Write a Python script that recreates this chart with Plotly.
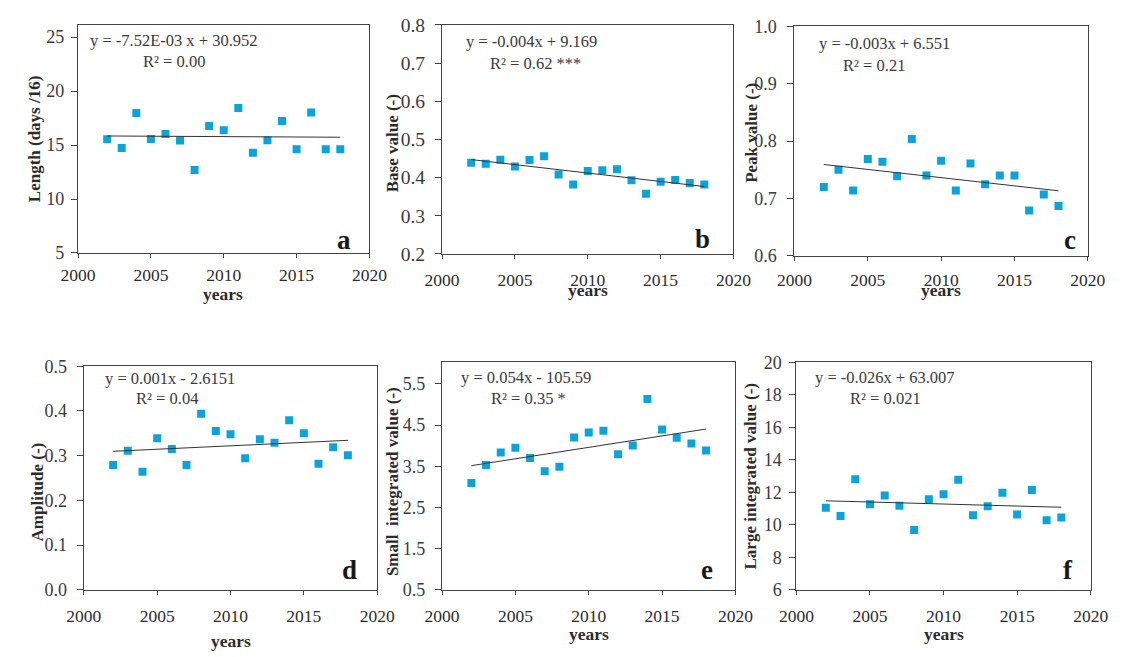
import numpy as np
import plotly.graph_objects as go

# ---- data -------------------------------------------------------------
years = [2002, 2003, 2004, 2005, 2006, 2007, 2008, 2009, 2010,
         2011, 2012, 2013, 2014, 2015, 2016, 2017, 2018]

length_days = [15.54, 14.73, 17.96, 15.57, 16.02, 15.42, 12.69, 16.77, 16.38,
               18.44, 14.28, 15.45, 17.22, 14.61, 18.02, 14.61, 14.61]
base_value = [0.439, 0.436, 0.447, 0.429, 0.446, 0.456, 0.408, 0.382, 0.417,
              0.419, 0.422, 0.393, 0.358, 0.389, 0.394, 0.386, 0.382]
peak_value = [0.720, 0.750, 0.714, 0.769, 0.764, 0.739, 0.804, 0.740, 0.766,
              0.714, 0.761, 0.725, 0.740, 0.740, 0.679, 0.707, 0.687]
amplitude = [0.279, 0.311, 0.264, 0.339, 0.315, 0.279, 0.394, 0.355, 0.348,
             0.294, 0.337, 0.329, 0.379, 0.350, 0.282, 0.319, 0.301]
small_integrated = [3.09, 3.53, 3.83, 3.95, 3.70, 3.38, 3.49, 4.20, 4.32,
                    4.36, 3.79, 4.00, 5.13, 4.39, 4.19, 4.05, 3.88]
large_integrated = [11.05, 10.55, 12.81, 11.27, 11.80, 11.17, 9.68, 11.58, 11.88,
                    12.77, 10.59, 11.15, 11.98, 10.63, 12.14, 10.28, 10.46]

y_titles = ["Length (days /16)", "Base value (-)", "Peak value (-)",
            "Amplitude (-)", "Small\u00a0 integrated value (-)", "Large integrated value (-)"]
equations = ["y = -7.52E-03 x + 30.952", "y = -0.004x + 9.169", "y = -0.003x + 6.551",
             "y = 0.001x - 2.6151", "y = 0.054x - 105.59", "y = -0.026x + 63.007"]
r2_labels = ["R² = 0.00", "R² = 0.62 ***", "R² = 0.21",
             "R² = 0.04", "R² = 0.35 *", "R² = 0.021"]
panel_letters = ["a", "b", "c", "d", "e", "f"]
y_ticks = [[5, 10, 15, 20, 25],
           [0.2, 0.3, 0.4, 0.5, 0.6, 0.7, 0.8],
           [0.6, 0.7, 0.8, 0.9, 1.0],
           [0.0, 0.1, 0.2, 0.3, 0.4, 0.5],
           [0.5, 1.5, 2.5, 3.5, 4.5, 5.5],
           [6, 8, 10, 12, 14, 16, 18, 20]]
x_ticks = [2000, 2005, 2010, 2015, 2020]
x_title = "years"

series = [length_days, base_value, peak_value, amplitude, small_integrated, large_integrated]

# ---- layout (pixels in a 1131 x 657 page) --------------------------------
W, H = 1131, 657
# left, right, top, bottom of each plot frame, y-range, tick format,
# y tick font size, x / y tick label standoff
frames = [
    (62, 363, 15, 251, [5, 26.17], "d", 18, 2, 3),
    (438, 739, 15, 252, [0.2, 0.801], ".1f", 19.5, 6, 6),
    (802, 1105, 17, 254, [0.6, 1.0], ".1f", 18, 4, 7),
    (68, 371, 368, 599, [0.0, 0.5], ".1f", 18, 6, 6),
    (438, 741, 364, 599, [0.5, 6.02], ".1f", 18, 6, 6),
    (804, 1108, 364, 599, [6, 20], "d", 18, 6, 4),
]
title_pos = [(17, 133), (387, 138), (758, 127), (20, 498), (387, 487), (757, 482)]
eq_pos = [((72, 31), (127, 53)), ((461, 33), (485, 55)), ((825, 35), (850, 57)),
          ((88, 381), (120, 401)), ((456, 380), (487, 401)), ((821, 380), (857, 401))]
letter_pos = [(337, 238), (707, 237), (1087, 238), (342, 578), (712, 578), (1085, 578)]
years_pos = [(212, 293), (589, 289), (953, 289), (220, 652), (590, 645), (956, 645)]

SERIF = "Liberation Serif, Times New Roman, serif"
MARKER = "#0aa4dd"
FRAME = "#454545"
TEXT = "#2b2b2b"

def px(x):
    return x / W

def py(y):
    return 1 - y / H

fig = go.Figure()
annotations = []
layout = {}

for i, (vals, fr) in enumerate(zip(series, frames)):
    left, right, top, bottom, yrange, fmt, ysize, xstand, ystand = fr
    n = "" if i == 0 else str(i + 1)
    xa, ya = "x" + n, "y" + n

    fig.add_trace(go.Scatter(
        x=years, y=vals, mode="markers", xaxis=xa, yaxis=ya,
        marker=dict(symbol="square", size=8, color=MARKER, line=dict(width=0)),
        showlegend=False, hoverinfo="x+y"))

    # least-squares linear trend over the observed years
    slope, intercept = np.polyfit(years, vals, 1)
    x_end = [years[0], years[-1]]
    fig.add_trace(go.Scatter(
        x=x_end, y=[slope * x + intercept for x in x_end], mode="lines",
        xaxis=xa, yaxis=ya, line=dict(color="#333333", width=1),
        showlegend=False, hoverinfo="skip"))

    layout["xaxis" + n] = dict(
        domain=[px(left), px(right)], anchor=ya, range=[2000, 2020],
        tickvals=x_ticks, ticks="outside", ticklen=4, tickcolor=FRAME,
        showline=True, linecolor=FRAME, linewidth=1.3, mirror=True,
        showgrid=False, zeroline=False, ticklabelstandoff=xstand,
        tickfont=dict(family=SERIF, size=17.5, color=TEXT))
    layout["yaxis" + n] = dict(
        domain=[py(bottom), py(top)], anchor=xa, range=yrange,
        tickvals=y_ticks[i], tickformat=fmt, ticks="outside", ticklen=6,
        tickcolor=FRAME, showline=True, linecolor=FRAME, linewidth=1.3,
        mirror=True, showgrid=False, zeroline=False, ticklabelstandoff=ystand,
        tickfont=dict(family=SERIF, size=ysize, color="#3a3a3a"))

    tx, ty = title_pos[i]
    annotations.append(dict(
        text="<b>%s</b>" % y_titles[i], x=px(tx), y=py(ty), xref="paper", yref="paper",
        textangle=-90, showarrow=False, xanchor="center", yanchor="middle",
        font=dict(family=SERIF, size=17, color=TEXT)))

    (ex, ey), (rx, ry) = eq_pos[i]
    annotations.append(dict(
        text=equations[i], x=px(ex), y=py(ey), xref="paper", yref="paper",
        showarrow=False, xanchor="left", yanchor="middle",
        font=dict(family=SERIF, size=16.5, color="#3a3a3a")))
    annotations.append(dict(
        text=r2_labels[i], x=px(rx), y=py(ry), xref="paper", yref="paper",
        showarrow=False, xanchor="left", yanchor="middle",
        font=dict(family=SERIF, size=16.5, color="#3a3a3a")))

    lx, ly = letter_pos[i]
    annotations.append(dict(
        text="<b>%s</b>" % panel_letters[i], x=px(lx), y=py(ly), xref="paper",
        yref="paper", showarrow=False, xanchor="center", yanchor="middle",
        font=dict(family=SERIF, size=27, color="#1a1a1a")))

    wx, wy = years_pos[i]
    annotations.append(dict(
        text="<b>%s</b>" % x_title, x=px(wx), y=py(wy), xref="paper", yref="paper",
        showarrow=False, xanchor="center", yanchor="middle",
        font=dict(family=SERIF, size=17.5, color=TEXT)))

fig.update_layout(
    width=W, height=H, margin=dict(l=0, r=0, t=0, b=0),
    paper_bgcolor="white", plot_bgcolor="white",
    annotations=annotations, **layout)

fig.write_html("out.html")
